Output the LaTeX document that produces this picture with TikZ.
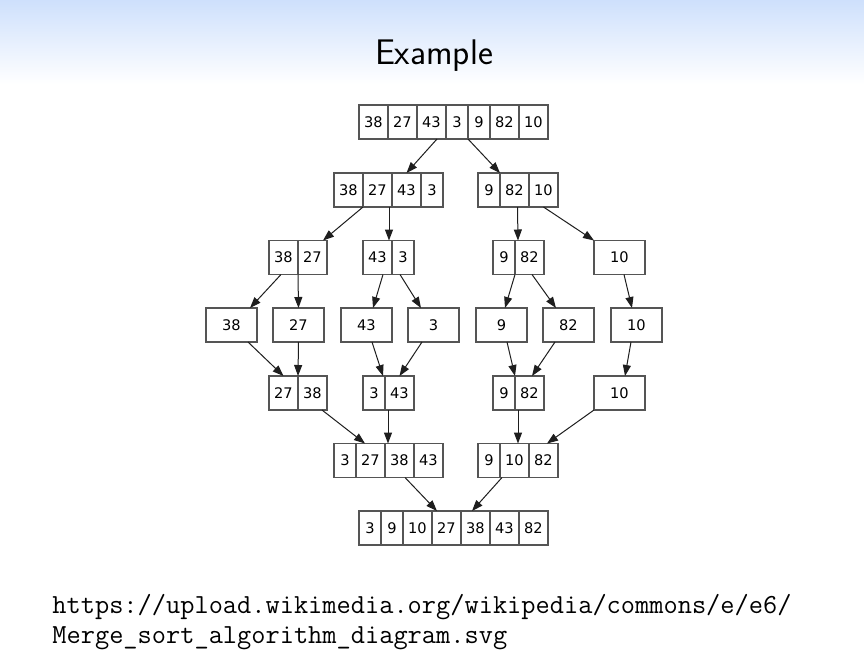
\documentclass[tikz,border=0pt]{standalone}
\usepackage{fontspec}
\newfontfamily\cellfont{DejaVu Sans}
\usetikzlibrary{positioning,arrows.meta}
\definecolor{bordure}{RGB}{85,85,85}
\definecolor{fleche}{RGB}{30,30,30}
\definecolor{bandeau}{RGB}{206,224,252}

\begin{document}
\begin{tikzpicture}[
    x=0.5pt, y=-0.5pt,
    cell/.style={draw=bordure, line width=0.7pt, minimum height=17pt,
      inner sep=0pt, outer sep=0pt, font=\cellfont\fontsize{7.3}{8}\selectfont},
    narrow/.style={cell, minimum width=11pt},
    broad/.style={cell, minimum width=14.5pt},
    leaf/.style={cell, minimum width=25.5pt},
    link/.style={draw=fleche, line width=0.5pt, -{Triangle[length=5.5pt,width=4pt]}},
    lien/.style={anchor=base west, inner sep=0pt, font=\ttfamily\fontsize{13.8}{15.5}\selectfont},
  ]
  \useasboundingbox (0,0) rectangle (864,660);
  \fill[white] (0,0) rectangle (864,660);
  \shade[top color=bandeau, bottom color=white] (0,0) rectangle (864,84);
  \node[anchor=base, font=\sffamily\fontsize{17.8}{20}\selectfont] (titre) at (434,64) {Example};

  % ligne du haut
  \node[broad, anchor=west] (A1) at (359,122) {38};
  \node[broad, right=0pt of A1] (A2) {27};
  \node[broad, right=0pt of A2] (A3) {43};
  \node[narrow, right=0pt of A3] (A4) {3};
  \node[narrow, right=0pt of A4] (A5) {9};
  \node[broad, right=0pt of A5] (A6) {82};
  \node[broad, right=0pt of A6] (A7) {10};

  \node[broad, anchor=west] (B1) at (334,190) {38};
  \node[broad, right=0pt of B1] (B2) {27};
  \node[broad, right=0pt of B2] (B3) {43};
  \node[narrow, right=0pt of B3] (B4) {3};
  \node[narrow, anchor=west] (B5) at (478,190) {9};
  \node[broad, right=0pt of B5] (B6) {82};
  \node[broad, right=0pt of B6] (B7) {10};

  \node[broad, anchor=west] (C1) at (269,257.5) {38};
  \node[broad, right=0pt of C1] (C2) {27};
  \node[broad, anchor=west] (C3) at (363,257.5) {43};
  \node[narrow, right=0pt of C3] (C4) {3};
  \node[narrow, anchor=west] (C5) at (493,257.5) {9};
  \node[broad, right=0pt of C5] (C6) {82};
  \node[leaf, anchor=west] (C7) at (594,257.5) {10};

  % une case par valeur
  \node[leaf, anchor=west] (D1) at (206,325) {38};
  \node[leaf, anchor=west] (D2) at (273,325) {27};
  \node[leaf, anchor=west] (D3) at (341,325) {43};
  \node[leaf, anchor=west] (D4) at (408,325) {3};
  \node[leaf, anchor=west] (D5) at (476,325) {9};
  \node[leaf, anchor=west] (D6) at (543,325) {82};
  \node[leaf, anchor=west] (D7) at (611,325) {10};

  \node[broad, anchor=west] (E1) at (269,393) {27};
  \node[broad, right=0pt of E1] (E2) {38};
  \node[narrow, anchor=west] (E3) at (363,393) {3};
  \node[broad, right=0pt of E3] (E4) {43};
  \node[narrow, anchor=west] (E5) at (493,393) {9};
  \node[broad, right=0pt of E5] (E6) {82};
  \node[leaf, anchor=west] (E7) at (594,393) {10};

  \node[narrow, anchor=west] (F1) at (334,460.5) {3};
  \node[broad, right=0pt of F1] (F2) {27};
  \node[broad, right=0pt of F2] (F3) {38};
  \node[broad, right=0pt of F3] (F4) {43};
  \node[narrow, anchor=west] (F5) at (478,460.5) {9};
  \node[broad, right=0pt of F5] (F6) {10};
  \node[broad, right=0pt of F6] (F7) {82};

  % resultat trie
  \node[narrow, anchor=west] (G1) at (359,528) {3};
  \node[narrow, right=0pt of G1] (G2) {9};
  \node[broad, right=0pt of G2] (G3) {10};
  \node[broad, right=0pt of G3] (G4) {27};
  \node[broad, right=0pt of G4] (G5) {38};
  \node[broad, right=0pt of G5] (G6) {43};
  \node[broad, right=0pt of G6] (G7) {82};

  \draw[link] ([xshift=2.75pt]A3.south) -- (B3.north);
  \draw[link] (A4.south east) -- (B5.north east);
  \draw[link] (B1.south east) -- ([xshift=-2pt]C2.north east);
  \draw[link] ([xshift=-1.5pt]B2.south east) -- ([xshift=-1.5pt]C3.north east);
  \draw[link] ([xshift=1.5pt]B6.south) -- ([xshift=1.5pt]C6.north west);
  \draw[link] (B7.south) -- (C7.north west);
  \draw[link] ([xshift=-1.25pt]C1.south) -- ([xshift=-3.5pt]D1.north east);
  \draw[link] (C1.south east) -- (D2.north);
  \draw[link] ([xshift=2.75pt]C3.south) -- ([xshift=3.25pt]D3.north);
  \draw[link] ([xshift=-1.5pt]C4.south) -- ([xshift=6.5pt]D4.north west);
  \draw[link] (C5.south east) -- ([xshift=1.75pt]D5.north);
  \draw[link] ([xshift=1.25pt]C6.south) -- ([xshift=6.5pt]D6.north west);
  \draw[link] ([xshift=2.25pt]C7.south) -- ([xshift=-2.25pt]D7.north);
  \draw[link] ([xshift=-4.5pt]D1.south east) -- (E1.north);
  \draw[link] (D2.south) -- (E1.north east);
  \draw[link] ([xshift=2.75pt]D3.south) -- ([xshift=-1pt]E3.north east);
  \draw[link] ([xshift=7pt]D4.south west) -- (E4.north);
  \draw[link] ([xshift=2.75pt]D5.south) -- (E5.north east);
  \draw[link] ([xshift=6pt]D6.south west) -- ([xshift=1.25pt]E6.north);
  \draw[link] ([xshift=-2.75pt]D7.south) -- ([xshift=2.75pt]E7.north);
  \draw[link] ([xshift=4.75pt]E2.south) -- ([xshift=-2.75pt]F2.north);
  \draw[link] ([xshift=1.5pt]E4.south west) -- ([xshift=1.5pt]F3.north west);
  \draw[link] ([xshift=1.5pt]E6.south west) -- ([xshift=1.75pt]F6.north);
  \draw[link] (E7.south west) -- ([xshift=1.75pt]F7.north);
  \draw[link] ([xshift=2.75pt]F3.south) -- ([xshift=2.5pt]G4.north west);
  \draw[link] ([xshift=1pt]F6.south west) -- ([xshift=-1.75pt]G5.north);

  \node[lien] (url1) at (52,613) {https://upload.wikimedia.org/wikipedia/commons/e/e6/};
  \node[lien] (url2) at ([yshift=-15pt]url1.base west) {Merge\_sort\_algorithm\_diagram.svg};
\end{tikzpicture}
\end{document}
